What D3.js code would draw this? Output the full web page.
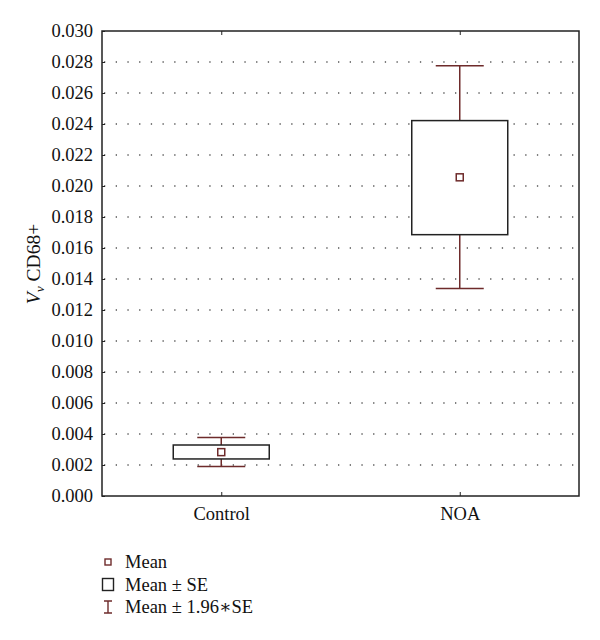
<!DOCTYPE html>
<html>
<head>
<meta charset="utf-8">
<script src="https://cdnjs.cloudflare.com/ajax/libs/d3/7.8.5/d3.min.js"></script>
<style>
  body { margin: 0; background: #fff; }
  svg text { font-family: "Liberation Serif", "DejaVu Serif", serif !important; }
</style>
</head>
<body>
<svg width="600" height="640"></svg>
<script>
// datos
const grupos = ["Control", "NOA"];
const medias = [0.00283, 0.02056];
const seBajo = [0.00239, 0.01686];
const seAlto = [0.00329, 0.02422];
const ciBajo = [0.00190, 0.01338];
const ciAlto = [0.00378, 0.02776];
const ticksY = d3.range(0, 0.0301, 0.002);
const leyenda = ["Mean", "Mean \u00b1 SE", "Mean \u00b1 1.96\u2217SE"];

const marron = "#6e2b2b";
const fuente = "Liberation Serif, DejaVu Serif, serif";
const svg = d3.select("svg");
const m = { left: 102, right: 579, top: 31, bottom: 496 };

const y = d3.scaleLinear().domain([0, 0.030]).range([m.bottom, m.top]);
const x = d3.scalePoint().domain(grupos).range([m.left, m.right]).padding(0.5);

// lineas de rejilla punteadas
svg.append("g")
  .selectAll("line")
  .data(ticksY.slice(1, -1))
  .enter()
  .append("line")
  .attr("x1", m.left + 2)
  .attr("x2", m.right)
  .attr("y1", d => y(d))
  .attr("y2", d => y(d))
  .attr("stroke", "#555")
  .attr("stroke-width", 1.3)
  .attr("stroke-dasharray", "1.3 10.4");

// eje y
const ejeY = svg.append("g")
  .attr("transform", `translate(${m.left},0)`)
  .call(d3.axisLeft(y).tickValues(ticksY).tickFormat(d3.format(".3f")).tickSizeInner(-3).tickSizeOuter(0).tickPadding(9))
  .attr("font-family", fuente).attr("font-size", 18.5);
ejeY.select(".domain").remove();
ejeY.selectAll("text").attr("fill", "#111");
ejeY.selectAll("line").attr("stroke", "#222");

// eje x
const ejeX = svg.append("g")
  .attr("transform", `translate(0,${m.bottom})`)
  .call(d3.axisBottom(x).tickSizeInner(-4).tickSizeOuter(0).tickPadding(11))
  .attr("font-family", fuente).attr("font-size", 18.5);
ejeX.select(".domain").remove();
ejeX.selectAll("text").attr("fill", "#111");
ejeX.selectAll("line").attr("stroke", "#222");

// ticks arriba
svg.append("g")
  .attr("transform", `translate(0,${m.top})`)
  .call(d3.axisTop(x).tickSizeInner(-4).tickSizeOuter(0).tickFormat(""))
  .call(g => g.select(".domain").remove())
  .selectAll("line").attr("stroke", "#222");

// marco
svg.append("rect")
  .attr("x", m.left)
  .attr("y", m.top)
  .attr("width", m.right - m.left)
  .attr("height", m.bottom - m.top)
  .attr("fill", "none")
  .attr("stroke", "#222")
  .attr("stroke-width", 1.5);

const cajas = svg.selectAll(".caja")
  .data(grupos)
  .enter()
  .append("g")
  .attr("class", "caja");

// bigotes
cajas.append("line")
  .attr("x1", d => x(d)).attr("x2", d => x(d))
  .attr("y1", (d, i) => y(ciAlto[i])).attr("y2", (d, i) => y(ciBajo[i]))
  .attr("stroke", marron).attr("stroke-width", 1.5);
[ciAlto, ciBajo].forEach(arr => {
  cajas.append("line")
    .attr("x1", d => x(d) - 24).attr("x2", d => x(d) + 24)
    .attr("y1", (d, i) => y(arr[i])).attr("y2", (d, i) => y(arr[i]))
    .attr("stroke", marron).attr("stroke-width", 1.5);
});

// caja media +- SE
cajas.append("rect")
  .attr("x", d => x(d) - 48)
  .attr("width", 96)
  .attr("y", (d, i) => y(seAlto[i]))
  .attr("height", (d, i) => y(seBajo[i]) - y(seAlto[i]))
  .attr("fill", "#fff")
  .attr("stroke", "#222")
  .attr("stroke-width", 1.5);

// media
cajas.append("rect")
  .attr("x", d => x(d) - 3.5)
  .attr("y", (d, i) => y(medias[i]) - 3.5)
  .attr("width", 7).attr("height", 7)
  .attr("fill", "#fff")
  .attr("stroke", marron)
  .attr("stroke-width", 1.5);

// titulo eje y
const tituloY = svg.append("text")
  .attr("transform", "translate(40,264) rotate(-90)")
  .attr("text-anchor", "middle")
  .attr("font-family", fuente)
  .attr("font-size", 19.5)
  .attr("fill", "#111");
tituloY.append("tspan").attr("font-style", "italic").text("V");
tituloY.append("tspan").attr("font-style", "italic").attr("font-size", 13.5).attr("dy", 4).text("v");
tituloY.append("tspan").attr("dy", -4).text(" CD68+");

// leyenda
const ley = svg.append("g").attr("transform", "translate(108,562)");
leyenda.forEach((t, i) => {
  const g = ley.append("g").attr("transform", `translate(0,${i * 22.5})`);
  if (i === 0) {
    g.append("rect").attr("x", -3).attr("y", -3).attr("width", 6).attr("height", 6)
      .attr("fill", "none").attr("stroke", marron).attr("stroke-width", 1.4);
  } else if (i === 1) {
    g.append("rect").attr("x", -5.5).attr("y", -6).attr("width", 11).attr("height", 12)
      .attr("fill", "none").attr("stroke", "#222").attr("stroke-width", 1.4);
  } else {
    g.append("path").attr("d", "M-4,-6H4M0,-6V6M-4,6H4")
      .attr("fill", "none").attr("stroke", marron).attr("stroke-width", 1.4);
  }
  g.append("text").attr("x", 17).attr("y", 6).attr("font-family", fuente)
    .attr("font-size", 18.5).attr("fill", "#111").text(t);
});
</script>
</body>
</html>
